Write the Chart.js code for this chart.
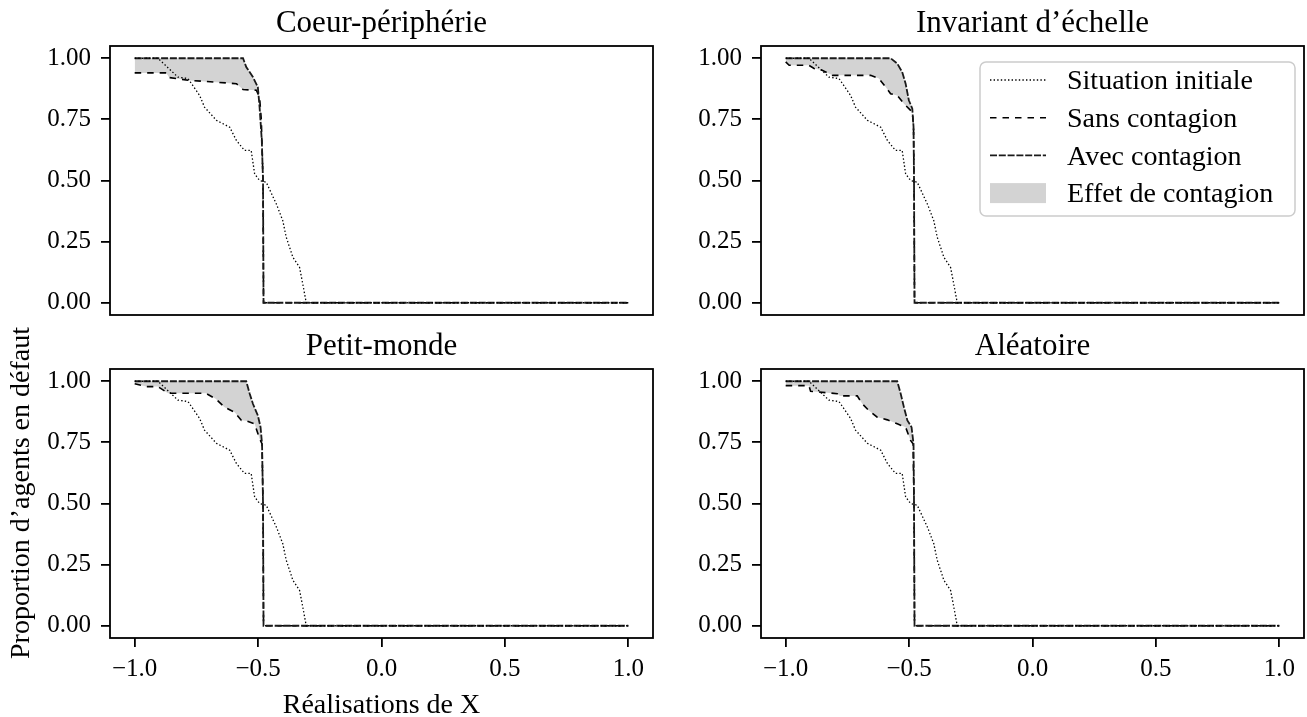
<!DOCTYPE html>
<html>
<head>
<meta charset="utf-8">
<script src="https://cdn.jsdelivr.net/npm/chart.js@4.4.0/dist/chart.umd.min.js"></script>
<style>
  body { margin: 0; background: #fff; overflow: hidden; }
  #wrap { position: relative; width: 1307px; height: 717px; }
  #wrap canvas { position: absolute; left: 0; top: 0; }
</style>
</head>
<body>
<div id="wrap">
  <canvas id="c1" width="1307" height="717"></canvas>
  <canvas id="c2" width="1307" height="717"></canvas>
  <canvas id="c3" width="1307" height="717"></canvas>
  <canvas id="c4" width="1307" height="717"></canvas>
</div>
<script>
// ticks
var xTicks = [-1, -0.5, 0, 0.5, 1];
var yTicks = [0, 0.25, 0.5, 0.75, 1];

// titles / labels
var titles = ['Coeur-périphérie', 'Invariant d\u2019échelle', 'Petit-monde', 'Aléatoire'];
var xLabel = 'Réalisations de X';
var yLabel = 'Proportion d\u2019agents en défaut';
var legendLabels = ['Situation initiale', 'Sans contagion', 'Avec contagion', 'Effet de contagion'];

// Situation initiale (same in every panel)
var initX = [-1.0, -0.906, -0.825, -0.784, -0.737, -0.717, -0.669, -0.615, -0.588, -0.555, -0.528, -0.514, -0.494, -0.467, -0.426, -0.400, -0.386, -0.359, -0.332, -0.319, -0.305, 1.0];
var initY = [1.0, 1.0, 0.923, 0.917, 0.848, 0.800, 0.746, 0.718, 0.664, 0.623, 0.623, 0.527, 0.500, 0.493, 0.404, 0.336, 0.268, 0.186, 0.145, 0.077, 0.0, 0.0];

// Coeur-peripherie
var cpAvecX = [-1.0, -0.561, -0.548, -0.521, -0.501, -0.494, -0.485, -0.480, -0.478, 1.0];
var cpAvecY = [1.0, 1.0, 0.964, 0.923, 0.882, 0.800, 0.664, 0.500, 0.0, 0.0];
var cpSansX = [-1.0, -0.872, -0.860, -0.784, -0.629, -0.588, -0.561, -0.507, -0.494, -0.487, -0.480, -0.478, 1.0];
var cpSansY = [0.940, 0.940, 0.921, 0.910, 0.899, 0.896, 0.872, 0.869, 0.841, 0.750, 0.500, 0.0, 0.0];

// Invariant d'echelle
var ieAvecX = [-1.0, -0.575, -0.548, -0.528, -0.514, -0.501, -0.487, -0.482, -0.480, -0.478, 1.0];
var ieAvecY = [1.0, 1.0, 0.978, 0.944, 0.896, 0.828, 0.794, 0.720, 0.500, 0.0, 0.0];
var ieSansX = [-1.0, -0.986, -0.906, -0.885, -0.852, -0.811, -0.656, -0.622, -0.595, -0.575, -0.548, -0.521, -0.494, -0.487, -0.482, -0.480, -0.478, 1.0];
var ieSansY = [0.985, 0.971, 0.971, 0.958, 0.951, 0.930, 0.930, 0.917, 0.882, 0.855, 0.848, 0.814, 0.787, 0.780, 0.720, 0.500, 0.0, 0.0];

// Petit-monde
var pmAvecX = [-1.0, -0.548, -0.534, -0.521, -0.501, -0.490, -0.484, -0.480, -0.478, 1.0];
var pmAvecY = [1.0, 1.0, 0.949, 0.908, 0.860, 0.812, 0.744, 0.500, 0.0, 0.0];
var pmSansX = [-1.0, -0.953, -0.906, -0.865, -0.712, -0.672, -0.636, -0.595, -0.568, -0.548, -0.514, -0.494, -0.484, -0.480, -0.478, 1.0];
var pmSansY = [0.990, 0.978, 0.978, 0.951, 0.951, 0.928, 0.894, 0.873, 0.840, 0.838, 0.826, 0.765, 0.744, 0.500, 0.0, 0.0];

// Aleatoire
var alAvecX = [-1.0, -0.548, -0.534, -0.521, -0.507, -0.490, -0.482, -0.480, -0.478, 1.0];
var alAvecY = [1.0, 1.0, 0.949, 0.894, 0.840, 0.812, 0.744, 0.500, 0.0, 0.0];
var alSansX = [-1.0, -0.906, -0.899, -0.791, -0.780, -0.710, -0.690, -0.663, -0.629, -0.588, -0.548, -0.514, -0.494, -0.484, -0.480, -0.478, 1.0];
var alSansY = [0.982, 0.982, 0.959, 0.949, 0.940, 0.940, 0.908, 0.880, 0.853, 0.842, 0.826, 0.812, 0.758, 0.744, 0.500, 0.0, 0.0];

Chart.defaults.font.family = "'Liberation Serif', 'Times New Roman', serif";
Chart.defaults.color = '#000';

var FONT = "'Liberation Serif', 'Times New Roman', serif";
var styles = {
  init: { color: '#000', width: 1.3, dash: [1.4, 2.2] },
  sans: { color: '#000', width: 1.6, dash: [6.5, 6] },
  avec: { color: '#1a1a1a', width: 1.8, dash: [7, 1.8] },
  fill: '#d3d3d3'
};

function pts(xs, ys) {
  return xs.map(function (x, i) { return { x: x, y: ys[i] }; });
}

function fmtX(v) {
  return (v < 0 ? '\u2212' : '') + Math.abs(v).toFixed(1);
}

// frame, title, axis labels and legend
var panelText = {
  id: 'panelText',
  afterDraw: function (chart, args, opts) {
    var ctx = chart.ctx, a = chart.chartArea;
    ctx.save();
    ctx.strokeStyle = '#000';
    ctx.lineWidth = 1.8;
    ctx.strokeRect(a.left, a.top, a.right - a.left, a.bottom - a.top);

    ctx.fillStyle = '#000';
    ctx.font = '31px ' + FONT;
    ctx.textAlign = 'center';
    ctx.textBaseline = 'alphabetic';
    ctx.fillText(opts.title, (a.left + a.right) / 2, a.top - 14);

    if (opts.xlabel) {
      ctx.font = '28px ' + FONT;
      ctx.fillText(opts.xlabel, (a.left + a.right) / 2, chart.height - 4);
    }
    if (opts.ylabel) {
      ctx.save();
      ctx.font = '28px ' + FONT;
      ctx.translate(29, opts.ylabelY);
      ctx.rotate(-Math.PI / 2);
      ctx.fillText(opts.ylabel, 0, 0);
      ctx.restore();
    }

    if (opts.legend) {
      var bw = 315, bh = 154;
      var bx = a.right - 9 - bw, by = a.top + 16;
      ctx.beginPath();
      ctx.roundRect(bx, by, bw, bh, 6);
      ctx.fillStyle = 'rgba(255,255,255,0.8)';
      ctx.fill();
      ctx.strokeStyle = '#cccccc';
      ctx.lineWidth = 1.5;
      ctx.stroke();

      var items = [styles.init, styles.sans, styles.avec, null];
      ctx.font = '28px ' + FONT;
      ctx.textAlign = 'left';
      ctx.textBaseline = 'middle';
      for (var i = 0; i < items.length; i++) {
        var ry = by + 18 + i * 37.7;
        var s = items[i];
        if (s) {
          ctx.beginPath();
          ctx.setLineDash(s.dash);
          ctx.strokeStyle = s.color;
          ctx.lineWidth = s.width;
          ctx.moveTo(bx + 10, ry);
          ctx.lineTo(bx + 66, ry);
          ctx.stroke();
          ctx.setLineDash([]);
        } else {
          ctx.fillStyle = styles.fill;
          ctx.fillRect(bx + 10, ry - 10, 56, 20);
        }
        ctx.fillStyle = '#000';
        ctx.fillText(legendLabels[i], bx + 87, ry + 2);
      }
    }
    ctx.restore();
  }
};

function makeChart(id, title, avecX, avecY, sansX, sansY, box, extra) {
  var showX = box.showX;
  var textOpts = Object.assign({ title: title }, extra || {});
  return new Chart(document.getElementById(id), {
    type: 'line',
    data: {
      datasets: [
        {
          label: legendLabels[0],
          data: pts(initX, initY),
          borderColor: styles.init.color,
          borderWidth: styles.init.width,
          borderDash: styles.init.dash,
          fill: false
        },
        {
          label: legendLabels[2],
          data: pts(avecX, avecY),
          borderColor: styles.avec.color,
          borderWidth: styles.avec.width,
          borderDash: styles.avec.dash,
          backgroundColor: styles.fill,
          fill: '+1'
        },
        {
          label: legendLabels[1],
          data: pts(sansX, sansY),
          borderColor: styles.sans.color,
          borderWidth: styles.sans.width,
          borderDash: styles.sans.dash,
          fill: false
        }
      ]
    },
    options: {
      responsive: false,
      animation: false,
      events: [],
      elements: { point: { radius: 0 }, line: { tension: 0, borderCapStyle: 'butt' } },
      layout: {
        padding: {
          left: box.L - 100,
          right: 1307 - box.R,
          top: box.T,
          bottom: showX ? 0 : 717 - box.B
        }
      },
      plugins: {
        legend: { display: false },
        title: { display: false },
        tooltip: { enabled: false },
        filler: { drawTime: 'beforeDatasetsDraw' },
        panelText: textOpts
      },
      scales: {
        x: {
          type: 'linear',
          min: -1.1,
          max: 1.1,
          display: showX,
          afterBuildTicks: function (axis) {
            axis.ticks = xTicks.map(function (v) { return { value: v }; });
          },
          afterFit: function (scale) { scale.height = showX ? 717 - box.B : 0; },
          ticks: {
            callback: function (v) { return fmtX(v); },
            font: { size: 25 },
            padding: 7,
            maxRotation: 0,
            autoSkip: false
          },
          grid: { drawOnChartArea: false, drawTicks: true, tickLength: 9, color: '#000', lineWidth: 1.8 },
          border: { display: false }
        },
        y: {
          type: 'linear',
          min: -0.05,
          max: 1.05,
          afterBuildTicks: function (axis) {
            axis.ticks = yTicks.map(function (v) { return { value: v }; });
          },
          afterFit: function (scale) { scale.width = 100; },
          ticks: {
            callback: function (v) { return v.toFixed(2); },
            font: { size: 25 },
            padding: 10
          },
          grid: { drawOnChartArea: false, drawTicks: true, tickLength: 9, color: '#000', lineWidth: 1.8 },
          border: { display: false }
        }
      }
    },
    plugins: [panelText]
  });
}

makeChart('c1', titles[0], cpAvecX, cpAvecY, cpSansX, cpSansY, { L: 110, R: 653, T: 46, B: 315, showX: false });
makeChart('c2', titles[1], ieAvecX, ieAvecY, ieSansX, ieSansY, { L: 761, R: 1304, T: 46, B: 315, showX: false }, { legend: true });
makeChart('c3', titles[2], pmAvecX, pmAvecY, pmSansX, pmSansY, { L: 110, R: 653, T: 369, B: 638, showX: true },
  { xlabel: xLabel, ylabel: yLabel, ylabelY: 493 });
makeChart('c4', titles[3], alAvecX, alAvecY, alSansX, alSansY, { L: 761, R: 1304, T: 369, B: 638, showX: true });
</script>
</body>
</html>
